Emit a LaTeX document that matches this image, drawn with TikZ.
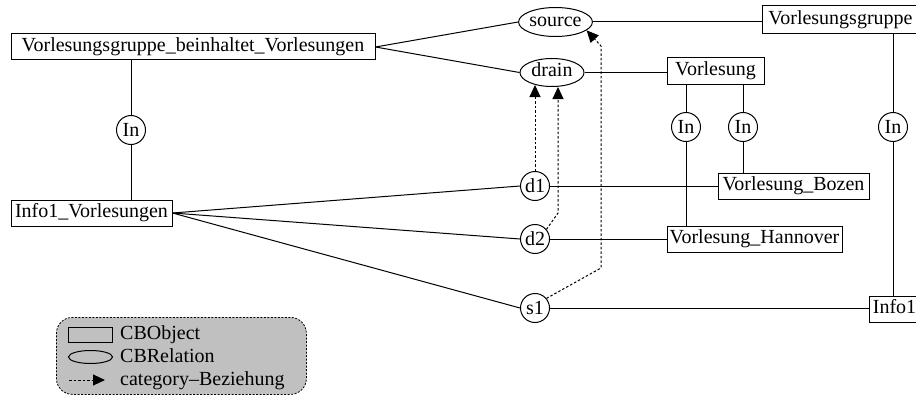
\documentclass[tikz,border=0pt]{standalone}
\usepackage{fontspec}
\setmainfont{Liberation Serif}
\usetikzlibrary{arrows.meta,shapes.geometric}
\definecolor{legendgray}{RGB}{192,192,192}
\begin{document}
\begin{tikzpicture}[x=1pt,y=-1pt,
  every node/.style={font=\fontsize{20}{23}\selectfont, inner sep=0pt},
  obj/.style={draw, rectangle, minimum height=26pt, line width=1pt, text height=13pt, text depth=4pt},
  rel/.style={draw, ellipse, line width=1pt, text height=13pt, text depth=4pt},
  inst/.style={draw, circle, minimum size=29pt, line width=1pt},
  link/.style={line width=1pt},
  cat/.style={line width=1pt, dash pattern=on 2.5pt off 2pt, -{Triangle[length=12pt,width=11pt]}},
  legtext/.style={anchor=base west}
]
\useasboundingbox (0,0) rectangle (916,396);

% objects
\node[obj, minimum width=364pt] (vbv) at (193,47) {Vorlesungsgruppe\_beinhaltet\_Vorlesungen};
\node[obj, minimum width=161pt] (iv) at (91.5,213) {Info1\_Vorlesungen};
\node[obj, minimum width=156pt, minimum height=28pt, anchor=west] (vg) at (762,20) {Vorlesungsgruppe};
\node[obj, minimum width=97pt, minimum height=27pt] (vl) at (715.5,71.5) {Vorlesung};
\node[obj, minimum width=151pt] (vb) at (793.5,186) {Vorlesung\_Bozen};
\node[obj, minimum width=175pt] (vh) at (754.5,239) {Vorlesung\_Hannover};
\node[obj, minimum width=50pt, anchor=west] (info1) at (869,309) {Info1};

% relations
\node[rel, minimum width=71pt, minimum height=29pt] (source) at (555.5,22) {source};
\node[rel, minimum width=64pt, minimum height=28pt] (drain) at (552,72.5) {drain};

% instance-of markers and relation instances
\node[inst] (in1) at (131,130) {In};
\node[inst] (in2) at (686,127) {In};
\node[inst] (in3) at (743,127) {In};
\node[inst] (in4) at (893,127) {In};
\node[inst] (d1) at (535,186) {d1};
\node[inst] (d2) at (535,239) {d2};
\node[inst] (s1) at (535,308) {s1};

% relation links
\draw[link] (vbv.east) -- (source.west);
\draw[link] (vbv.east) -- (drain.west);
\draw[link] (source.east) -- (vg.west |- source.east);
\draw[link] (drain.east) -- (vl.west |- drain.east);
\draw[link] (iv.east) -- (d1.west);
\draw[link] (iv.east) -- (d2.west);
\draw[link] (iv.east) -- (s1.west);
\draw[link] (d1.east) -- (vb.west |- d1.east);
\draw[link] (d2.east) -- (vh.west |- d2.east);
\draw[link] (s1.east) -- (info1.west |- s1.east);

% instance-of links
\draw[link] (vbv.south -| in1) -- (in1.north);
\draw[link] (in1.south) -- (iv.north -| in1);
\draw[link] (vl.south -| in2) -- (in2.north);
\draw[link] (in2.south) -- (vh.north -| in2);
\draw[link] (vl.south -| in3) -- (in3.north);
\draw[link] (in3.south) -- (vb.north -| in3);
\draw[link] (vg.south -| in4) -- (in4.north);
\draw[link] (in4.south) -- (info1.north -| in4);

% category links
\coordinate (dtipA) at (535,85);
\coordinate (d2bend) at (558,213);
\coordinate (s1bend) at (601,268);
\coordinate (s1top) at (601,46);
\draw[cat] (d1.north) -- (dtipA);
\draw[cat] (d2.40) -- (d2bend) -- (d2bend |- drain.south);
\draw[cat] (s1.40) -- (s1bend) -- (s1top) -- (source.-15);

% legend
\node[draw, dash pattern=on 2pt off 1.5pt, line width=0.8pt, fill=legendgray, rounded corners=16pt,
      minimum width=250pt, minimum height=77pt, anchor=north west] (legend) at (56,317) {};
\node[draw, line width=1pt, minimum width=44pt, minimum height=15pt] (lobj) at (90.5,334.5) {};
\node[draw, ellipse, line width=1pt, minimum width=44pt, minimum height=13pt] (lrel) at (90.5,357) {};
\coordinate (lcatA) at (69,380);
\coordinate (lcatB) at (105,380);
\draw[cat] (lcatA) -- (lcatB);
\node[legtext] (tobj) at (120,339) {CBObject};
\node[legtext] (trel) at (120,362) {CBRelation};
\node[legtext] (tcat) at (120,385) {category--Beziehung};
\end{tikzpicture}
\end{document}
